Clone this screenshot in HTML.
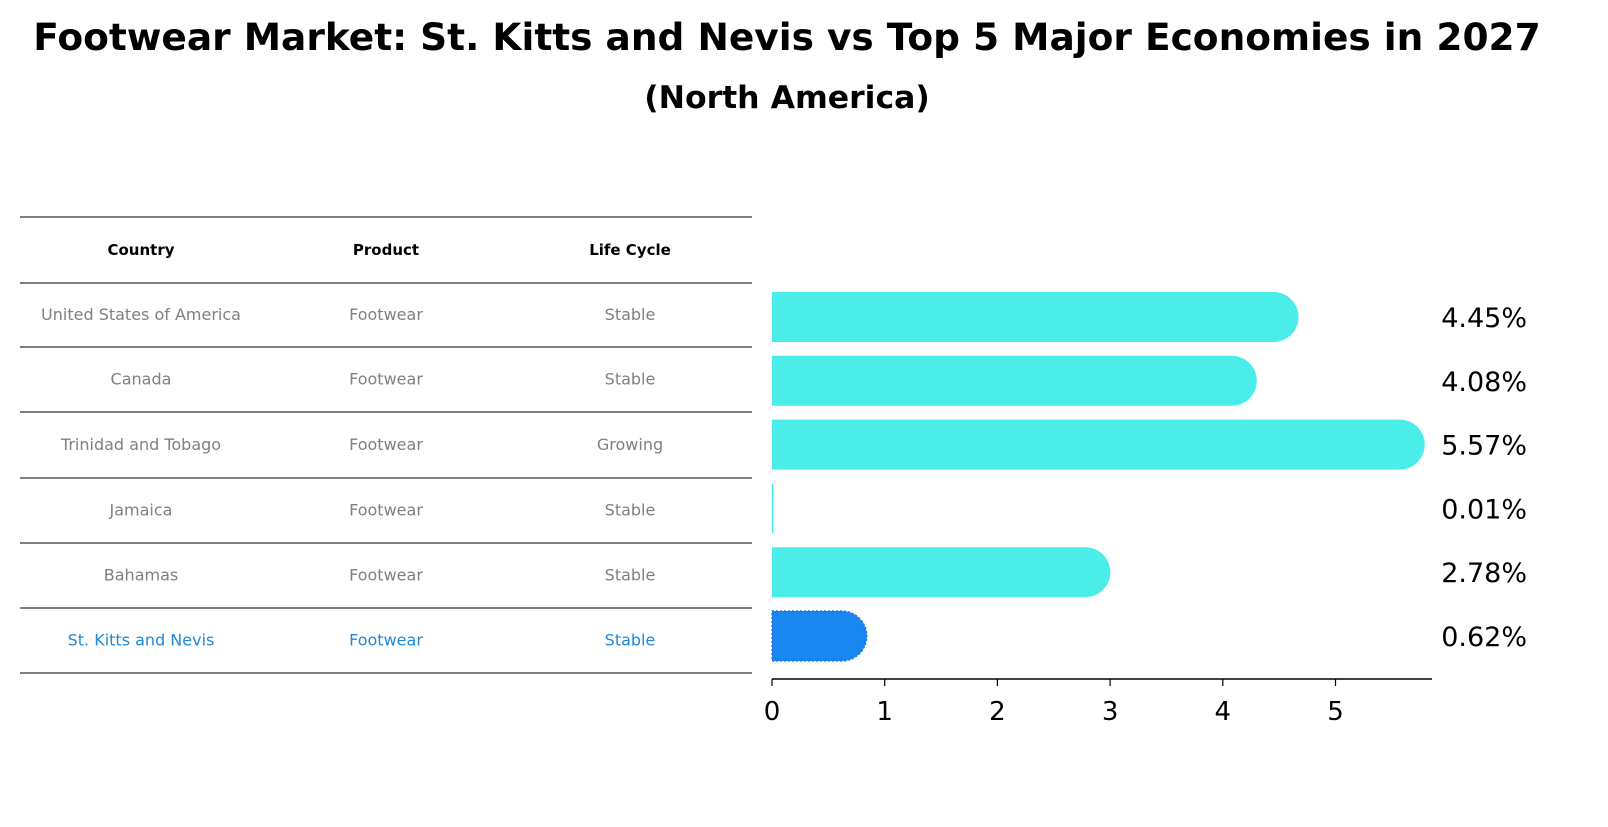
<!DOCTYPE html>
<html><head><meta charset="utf-8"><style>
body{margin:0;background:#fff;font-family:"DejaVu Sans","Liberation Sans",sans-serif}
</style></head><body>
<svg width="1608" height="823" xmlns="http://www.w3.org/2000/svg" font-family="DejaVu Sans, Liberation Sans, sans-serif">
<text x="787" y="50" text-anchor="middle" font-size="37.5" font-weight="bold">Footwear Market: St. Kitts and Nevis vs Top 5 Major Economies in 2027</text>
<text x="787" y="108" text-anchor="middle" font-size="31.5" font-weight="bold">(North America)</text>
<g id="table"></g>
<g id="bars"></g>
</svg>
<script>
const countries=["United States of America","Canada","Trinidad and Tobago","Jamaica","Bahamas","St. Kitts and Nevis"];
const products=["Footwear","Footwear","Footwear","Footwear","Footwear","Footwear"];
const lifeCycles=["Stable","Stable","Growing","Stable","Stable","Stable"];
const values=[4.45,4.08,5.57,0.01,2.78,0.62];
const valueLabels=["4.45%","4.08%","5.57%","0.01%","2.78%","0.62%"];
const xTicks=[0,1,2,3,4,5];
const NS="http://www.w3.org/2000/svg";
function mk(tag,attrs,parent,text){const e=document.createElementNS(NS,tag);for(const k in attrs)e.setAttribute(k,attrs[k]);if(text!==undefined)e.textContent=text;parent.appendChild(e);return e;}
const x=v=>772+v*112.7;
const rowY=i=>317+i*63.8;
const tbl=document.getElementById('table');
const lines=[217,283,347,412,478,543,608,673];
lines.forEach((ly,i)=>{const l=mk('line',{x1:20,x2:752,y1:ly,y2:ly,stroke:'#000','stroke-width':1},tbl);

});
const colX=[141,386,630];
["Country","Product","Life Cycle"].forEach((h,j)=>{const t=mk('text',{x:colX[j],y:255,'text-anchor':'middle','font-size':15,'font-weight':'bold'},tbl,h);

});
countries.forEach((c,i)=>{const cy=(lines[i+1]+lines[i+2])/2+5;const col=i===countries.length-1?'#1f88d8':'#808080';
[c,products[i],lifeCycles[i]].forEach((s,j)=>{const t=mk('text',{x:colX[j],y:cy,'text-anchor':'middle','font-size':16,fill:col},tbl,s);

});});
const g=document.getElementById('bars');
values.forEach((v,i)=>{const cy=rowY(i);const hl=i===values.length-1;const col=hl?'#1a86f0':'#4bede9';
const w=x(v)-x(0);const r=w>5?25:0;
const p=mk('path',{d:r?`M${x(0)},${cy-25}H${x(v)}A25,25 0 0 1 ${x(v)},${cy+25}H${x(0)}Z`:`M${x(0)},${cy-25}h${Math.max(w,1.5)}v50h${-Math.max(w,1.5)}Z`,fill:col},g);
if(hl){p.setAttribute('stroke','#1470d0');p.setAttribute('stroke-dasharray','2,2');p.setAttribute('stroke-width','1.2');}


const t=mk('text',{x:1527,y:cy+10,'text-anchor':'end','font-size':27},g,valueLabels[i]);

});
const ax=mk('line',{x1:772,x2:1432,y1:679,y2:679,stroke:'#000','stroke-width':1.5},g);


xTicks.forEach(tv=>{const tk=mk('line',{x1:x(tv),x2:x(tv),y1:679,y2:686,stroke:'#000','stroke-width':1.2},g);


const t=mk('text',{x:x(tv),y:720,'text-anchor':'middle','font-size':26},g,String(tv));

});
</script>
</body></html>
